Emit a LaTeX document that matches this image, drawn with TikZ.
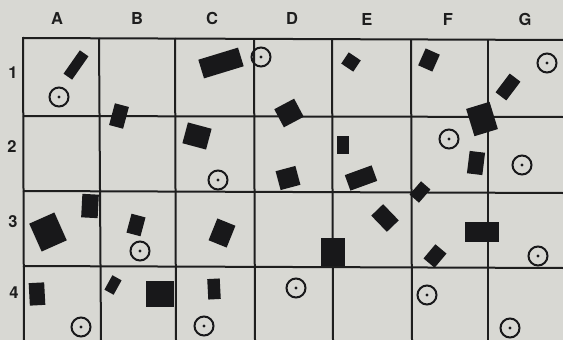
\documentclass[tikz,border=0pt]{standalone}
\usepackage{fontspec}
\setmainfont{TeX Gyre Heros}
\newfontfamily\lblfont{TeX Gyre Heros}
\definecolor{paper}{RGB}{216,216,211}
\definecolor{ink}{RGB}{24,24,26}
\definecolor{rule}{RGB}{30,30,30}
\tikzset{
  blk/.style={fill=ink, draw=none, rectangle, inner sep=0pt, outer sep=0pt},
  target/.style={circle, draw=ink, line width=2pt, minimum size=19pt, inner sep=0pt},
  gridline/.style={draw=rule, line width=2pt},
  lbl/.style={font=\lblfont\bfseries\fontsize{16.5}{19}\selectfont, text=rule, inner sep=0pt}
}
\newcommand{\blk}[6]{\node[blk, minimum width=#4pt+1.5pt, minimum height=#5pt+1.5pt, rotate=#6] (#1) at (#2,#3) {};}
\newcommand{\tgt}[3]{\node[target] (#1) at (#2,#3) {}; \fill[ink] (#1.center) circle (1.6pt);}
\begin{document}
\begin{tikzpicture}[x=1pt,y=-1pt]
\fill[paper] (0,0) rectangle (563,340);
\useasboundingbox (0,0) rectangle (563,340);
% grid
\coordinate (h1a) at (23,38);  \coordinate (h1b) at (563,40);
\coordinate (h2a) at (23,116); \coordinate (h2b) at (563,117);
\coordinate (h3a) at (23,191); \coordinate (h3b) at (563,193);
\coordinate (h4a) at (23,266); \coordinate (h4b) at (563,268);
\draw[gridline] (h1a) -- (h1b);
\draw[gridline] (h2a) -- (h2b);
\draw[gridline] (h3a) -- (h3b);
\draw[gridline] (h4a) -- (h4b);
\coordinate (v1a) at (23,37);  \coordinate (v1b) at (24,340);
\coordinate (v2a) at (99,38);  \coordinate (v2b) at (101,340);
\coordinate (v3a) at (175,38); \coordinate (v3b) at (176,340);
\coordinate (v4a) at (254,39); \coordinate (v4b) at (255,340);
\coordinate (v5a) at (332,39); \coordinate (v5b) at (333,340);
\coordinate (v6a) at (411,40); \coordinate (v6b) at (412,340);
\coordinate (v7a) at (488,40); \coordinate (v7b) at (488,340);
\foreach \i in {1,...,7} {\draw[gridline] (v\i a) -- (v\i b);}
% labels
\node[lbl] (lA) at (57,18) {A};
\node[lbl] (lB) at (137,18) {B};
\node[lbl] (lC) at (212,18) {C};
\node[lbl] (lD) at (292,18) {D};
\node[lbl] (lE) at (367,19) {E};
\node[lbl] (lF) at (448,19) {F};
\node[lbl] (lG) at (525,19) {G};
\node[lbl] (l1) at (13,73) {1};
\node[lbl] (l2) at (12,147) {2};
\node[lbl] (l3) at (13,222) {3};
\node[lbl] (l4) at (14,293) {4};
% blocks
\blk{a1}{76}{65}{27}{9}{55}
\blk{b2}{119}{116}{13}{21}{-15}
\blk{c1}{221}{63}{40}{18}{17}
\blk{c2}{197}{136}{23}{20}{-15}
\blk{d2a}{289}{113}{21}{19}{28}
\blk{d2b}{288}{178}{19}{18}{15}
\blk{e1}{351}{62}{13}{12}{-34}
\blk{e2a}{343}{145}{11}{17}{0}
\blk{e2b}{361}{178}{27}{15}{20}
\blk{f1}{429}{60}{14}{17}{-24}
\blk{g1}{508}{87}{22}{12}{53}
\blk{fg2}{482}{119}{23}{27}{17}
\blk{f2}{476}{163}{14}{21}{-7}
\blk{a3a}{90}{206}{15}{22}{-3}
\blk{a3b}{48}{232}{26}{29}{24}
\blk{b3}{136}{225}{13}{18}{-15}
\blk{c3}{222}{233}{18}{22}{-22}
\blk{f3a}{420}{192}{16}{11}{49}
\blk{e3}{385}{218}{21}{15}{-46}
\blk{de3}{333}{252}{22}{26}{0}
\blk{g3}{482}{232}{32}{19}{0}
\blk{f3b}{435}{256}{17}{13}{50}
\blk{a4}{37}{294}{14}{21}{3}
\blk{b4a}{113}{285}{15}{9}{61}
\blk{b4b}{160}{294}{26}{25}{0}
\blk{c4}{214}{289}{11}{19}{3}
% targets
\tgt{ta1}{59}{97}
\tgt{td1}{261}{57}
\tgt{tg1}{547}{63}
\tgt{tc2}{218}{180}
\tgt{tf2}{449}{139}
\tgt{tg2}{522}{165}
\tgt{tb3}{140}{251}
\tgt{tg3}{538}{256}
\tgt{ta4}{81}{327}
\tgt{tc4}{204}{326}
\tgt{td4}{296}{288}
\tgt{tf4}{427}{295}
\tgt{tg4}{510}{328}
\end{tikzpicture}
\end{document}
